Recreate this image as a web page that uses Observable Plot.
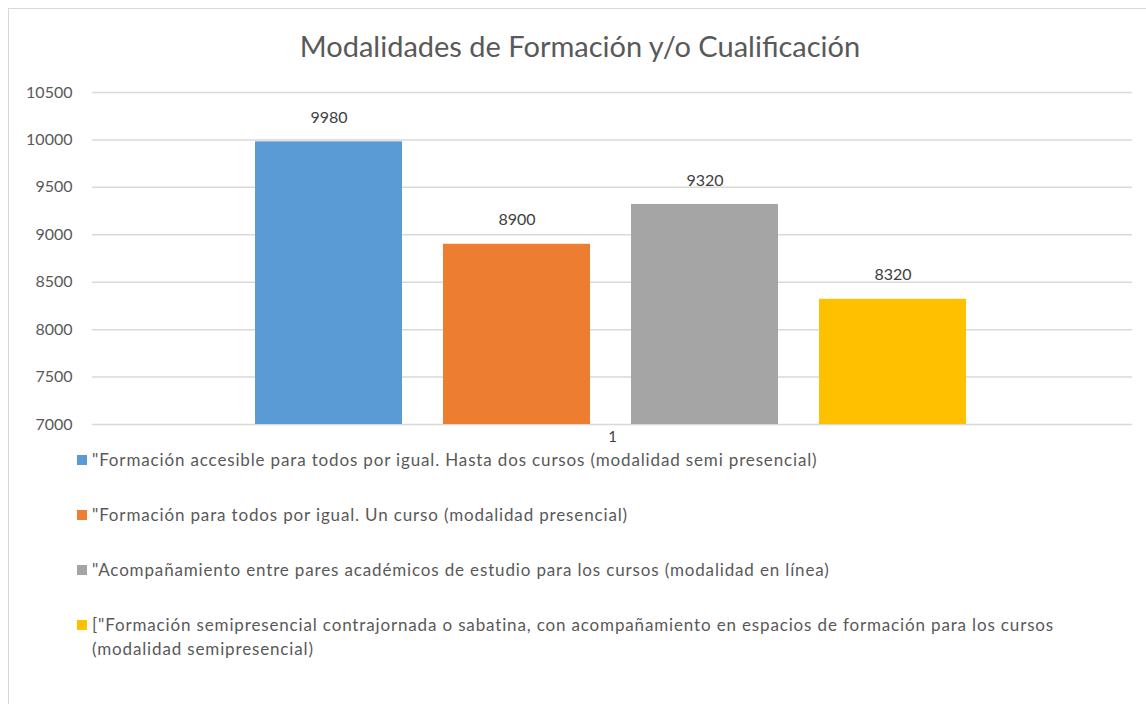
<!DOCTYPE html>
<html>
<head>
<meta charset="utf-8">
<script src="https://cdn.jsdelivr.net/npm/d3@7"></script>
<script src="https://cdn.jsdelivr.net/npm/@observablehq/plot@0.6"></script>
<style>
  html, body { margin: 0; padding: 0; background: #fff; overflow: hidden; }
  body { font-family: Lato, "Open Sans", sans-serif; }
  #frame { position: absolute; left: 8px; top: 8px; width: 1200px; height: 760px; border: 1px solid #d9d9d9; box-sizing: border-box; pointer-events: none; }
  #wrap { position: absolute; left: 0; top: 0; width: 1146px; }
  #title { height: 72px; box-sizing: border-box; padding-top: 28px; padding-left: 14px; text-align: center; font-size: 29px; line-height: 36px; color: #595959; }
  #chart svg { background: transparent; overflow: visible; }
  #legend { padding-left: 77px; margin-top: -12px; position: relative; }
  .item { display: flex; align-items: flex-start; margin-bottom: 31px; font-size: 17px; letter-spacing: 0.85px; line-height: 24px; color: #595959; }
  .sw { width: 10px; height: 10px; margin-top: 7px; margin-right: 5px; flex: none; }
  .lbl { max-width: 990px; }
</style>
</head>
<body>
<div id="wrap">
  <div id="title">Modalidades de Formación y/o Cualificación</div>
  <div id="chart"></div>
  <div id="legend"></div>
</div>
<div id="frame"></div>
<script>
const category = "1";
const series = [
  "\"Formación accesible para todos por igual. Hasta dos cursos (modalidad semi presencial)",
  "\"Formación para todos por igual. Un curso (modalidad presencial)",
  "\"Acompañamiento entre pares académicos de estudio para los cursos (modalidad en línea)",
  "[\"Formación semipresencial contrajornada o sabatina, con acompañamiento en espacios de formación para los cursos (modalidad semipresencial)"
];
const values = [9980, 8900, 9320, 8320];
const colors = ["#5b9bd5", "#ed7d31", "#a5a5a5", "#ffc000"];
const yTicks = [7000, 7500, 8000, 8500, 9000, 9500, 10000, 10500];

const data = series.map((s, i) => ({series: s, value: values[i], category}));

const chart = Plot.plot({
  width: 1146,
  height: 388,
  marginTop: 20,
  marginBottom: 36,
  marginLeft: 92,
  marginRight: 14,
  style: {fontFamily: "Lato, 'Open Sans', sans-serif", fontSize: "16px", color: "#595959", background: "transparent", overflow: "visible"},
  x: {domain: series, range: [254, 968], paddingInner: 0.217, paddingOuter: 0, axis: null},
  y: {domain: [7000, 10500], ticks: yTicks, tickSize: 0, tickPadding: 20, label: null, tickFormat: d => String(d)},
  color: {domain: series, range: colors},
  marks: [
    Plot.ruleY(yTicks, {stroke: "#d9d9d9", strokeWidth: 1.5}),
    Plot.barY(data, {x: "series", y1: 7000, y2: "value", fill: "series"}),
    Plot.text(data, {x: "series", y: "value", text: d => String(d.value), dy: -24, fill: "#404040", fontSize: 16}),
    Plot.text([category], {frameAnchor: "bottom", text: d => d, dy: 17, fill: "#404040", fontSize: 15}),
    Plot.axisY({ticks: yTicks, tickSize: 0, tickPadding: 20, tickFormat: d => String(d), label: null, fill: "#595959", fontSize: 16})
  ]
});
document.getElementById("chart").appendChild(chart);

const legend = d3.select("#legend");
series.forEach((s, i) => {
  const it = legend.append("div").attr("class", "item");
  it.append("div").attr("class", "sw").style("background", colors[i]);
  it.append("div").attr("class", "lbl").text(s);
});
</script>
</body>
</html>
